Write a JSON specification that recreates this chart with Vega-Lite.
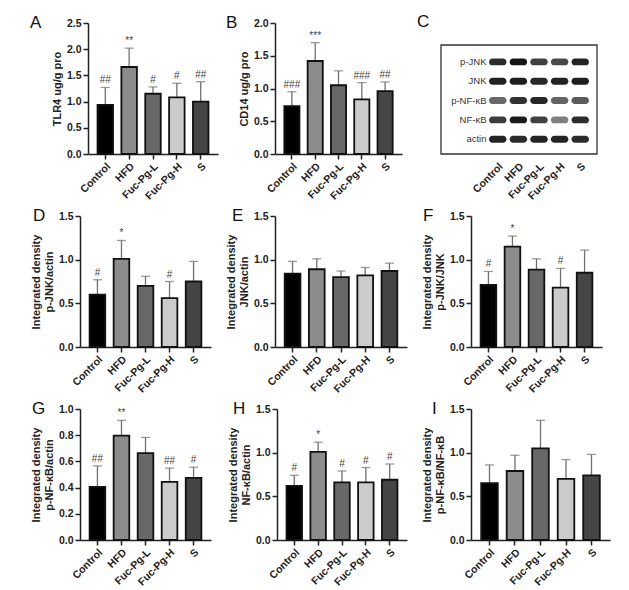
{
  "$schema": "https://vega.github.io/schema/vega-lite/v6.json",
  "padding": {"left": 30, "top": 13, "right": 5, "bottom": 5},
  "background": "white",
  "datasets": {
    "bars": [
      {"panel": "A", "group": "Control", "mean": 0.935, "upper": 1.27, "sig": "##"},
      {"panel": "A", "group": "HFD", "mean": 1.66, "upper": 2.02, "sig": "**"},
      {"panel": "A", "group": "Fuc-Pg-L", "mean": 1.15, "upper": 1.28, "sig": "#"},
      {"panel": "A", "group": "Fuc-Pg-H", "mean": 1.08, "upper": 1.35, "sig": "#"},
      {"panel": "A", "group": "S", "mean": 1.0, "upper": 1.38, "sig": "##"},
      {"panel": "B", "group": "Control", "mean": 0.73, "upper": 0.95, "sig": "###"},
      {"panel": "B", "group": "HFD", "mean": 1.42, "upper": 1.7, "sig": "***"},
      {"panel": "B", "group": "Fuc-Pg-L", "mean": 1.05, "upper": 1.27, "sig": ""},
      {"panel": "B", "group": "Fuc-Pg-H", "mean": 0.835, "upper": 1.09, "sig": "###"},
      {"panel": "B", "group": "S", "mean": 0.96, "upper": 1.1, "sig": "##"},
      {"panel": "D", "group": "Control", "mean": 0.6, "upper": 0.77, "sig": "#"},
      {"panel": "D", "group": "HFD", "mean": 1.01, "upper": 1.22, "sig": "*"},
      {"panel": "D", "group": "Fuc-Pg-L", "mean": 0.7, "upper": 0.81, "sig": ""},
      {"panel": "D", "group": "Fuc-Pg-H", "mean": 0.56, "upper": 0.75, "sig": "#"},
      {"panel": "D", "group": "S", "mean": 0.75, "upper": 0.98, "sig": ""},
      {"panel": "E", "group": "Control", "mean": 0.84, "upper": 0.98, "sig": ""},
      {"panel": "E", "group": "HFD", "mean": 0.89, "upper": 1.01, "sig": ""},
      {"panel": "E", "group": "Fuc-Pg-L", "mean": 0.8, "upper": 0.87, "sig": ""},
      {"panel": "E", "group": "Fuc-Pg-H", "mean": 0.82, "upper": 0.91, "sig": ""},
      {"panel": "E", "group": "S", "mean": 0.87, "upper": 0.96, "sig": ""},
      {"panel": "F", "group": "Control", "mean": 0.71, "upper": 0.865, "sig": "#"},
      {"panel": "F", "group": "HFD", "mean": 1.15, "upper": 1.27, "sig": "*"},
      {"panel": "F", "group": "Fuc-Pg-L", "mean": 0.885, "upper": 1.01, "sig": ""},
      {"panel": "F", "group": "Fuc-Pg-H", "mean": 0.68, "upper": 0.9, "sig": "#"},
      {"panel": "F", "group": "S", "mean": 0.85, "upper": 1.11, "sig": ""},
      {"panel": "G", "group": "Control", "mean": 0.405, "upper": 0.566, "sig": "##"},
      {"panel": "G", "group": "HFD", "mean": 0.796, "upper": 0.913, "sig": "**"},
      {"panel": "G", "group": "Fuc-Pg-L", "mean": 0.663, "upper": 0.783, "sig": ""},
      {"panel": "G", "group": "Fuc-Pg-H", "mean": 0.444, "upper": 0.549, "sig": "##"},
      {"panel": "G", "group": "S", "mean": 0.474, "upper": 0.556, "sig": "#"},
      {"panel": "H", "group": "Control", "mean": 0.62, "upper": 0.74, "sig": "#"},
      {"panel": "H", "group": "HFD", "mean": 1.01, "upper": 1.12, "sig": "*"},
      {"panel": "H", "group": "Fuc-Pg-L", "mean": 0.66, "upper": 0.79, "sig": "#"},
      {"panel": "H", "group": "Fuc-Pg-H", "mean": 0.66, "upper": 0.83, "sig": "#"},
      {"panel": "H", "group": "S", "mean": 0.69, "upper": 0.87, "sig": "#"},
      {"panel": "I", "group": "Control", "mean": 0.65, "upper": 0.86, "sig": ""},
      {"panel": "I", "group": "HFD", "mean": 0.79, "upper": 0.97, "sig": ""},
      {"panel": "I", "group": "Fuc-Pg-L", "mean": 1.05, "upper": 1.37, "sig": ""},
      {"panel": "I", "group": "Fuc-Pg-H", "mean": 0.7, "upper": 0.92, "sig": ""},
      {"panel": "I", "group": "S", "mean": 0.74, "upper": 0.98, "sig": ""}
    ],
    "blot": [
      {"protein": "p-JNK", "lane": "Control", "intensity": 0.88},
      {"protein": "p-JNK", "lane": "HFD", "intensity": 1.0},
      {"protein": "p-JNK", "lane": "Fuc-Pg-L", "intensity": 0.78},
      {"protein": "p-JNK", "lane": "Fuc-Pg-H", "intensity": 0.74},
      {"protein": "p-JNK", "lane": "S", "intensity": 0.92},
      {"protein": "JNK", "lane": "Control", "intensity": 0.93},
      {"protein": "JNK", "lane": "HFD", "intensity": 0.95},
      {"protein": "JNK", "lane": "Fuc-Pg-L", "intensity": 0.9},
      {"protein": "JNK", "lane": "Fuc-Pg-H", "intensity": 0.93},
      {"protein": "JNK", "lane": "S", "intensity": 0.95},
      {"protein": "p-NF-κB", "lane": "Control", "intensity": 0.6},
      {"protein": "p-NF-κB", "lane": "HFD", "intensity": 0.85},
      {"protein": "p-NF-κB", "lane": "Fuc-Pg-L", "intensity": 0.9},
      {"protein": "p-NF-κB", "lane": "Fuc-Pg-H", "intensity": 0.62},
      {"protein": "p-NF-κB", "lane": "S", "intensity": 0.66},
      {"protein": "NF-κB", "lane": "Control", "intensity": 0.8},
      {"protein": "NF-κB", "lane": "HFD", "intensity": 0.97},
      {"protein": "NF-κB", "lane": "Fuc-Pg-L", "intensity": 0.78},
      {"protein": "NF-κB", "lane": "Fuc-Pg-H", "intensity": 0.5},
      {"protein": "NF-κB", "lane": "S", "intensity": 0.88},
      {"protein": "actin", "lane": "Control", "intensity": 0.92},
      {"protein": "actin", "lane": "HFD", "intensity": 0.88},
      {"protein": "actin", "lane": "Fuc-Pg-L", "intensity": 0.92},
      {"protein": "actin", "lane": "Fuc-Pg-H", "intensity": 0.92},
      {"protein": "actin", "lane": "S", "intensity": 0.88}
    ]
  },
  "columns": 3,
  "align": "each",
  "bounds": "flush",
  "spacing": {"row": 62, "column": 20},
  "concat": [
    {
      "width": 175, "height": 131,
      "title": {"text": "A", "dx": -50, "dy": 18},
      "data": {"name": "bars"},
      "transform": [{"filter": "datum.panel === 'A'"}],
      "encoding": {
        "x": {"field": "group", "type": "nominal", "sort": ["Control", "HFD", "Fuc-Pg-L", "Fuc-Pg-H", "S"], "title": null,
              "scale": {"range": [8, 138], "paddingInner": 0.35, "paddingOuter": 0.4}},
        "y": {"field": "mean", "type": "quantitative", "scale": {"domain": [0, 2.5], "nice": false},
              "axis": {"title": "TLR4 ug/g pro", "values": [0, 0.5, 1, 1.5, 2, 2.5], "format": ".1f", "offset": -8}}
      },
      "layer": [
        {"mark": {"type": "rule", "color": "#707070", "strokeWidth": 1.3}, "encoding": {"y2": {"field": "upper"}}},
        {"mark": {"type": "tick", "color": "#707070", "thickness": 1.3, "size": 9}, "encoding": {"y": {"field": "upper", "type": "quantitative"}}},
        {"mark": {"type": "bar", "stroke": "#111", "strokeWidth": 1.8}, "encoding": {"fill": {"field": "group", "type": "nominal", "legend": null}}},
        {"mark": {"type": "text", "baseline": "bottom", "dy": -2, "fontSize": 10, "color": "#444"}, "encoding": {"y": {"field": "upper", "type": "quantitative"}, "text": {"field": "sig"}}}
      ]
    },
    {
      "width": 146, "height": 131,
      "title": {"text": "B", "dx": -49, "dy": 18},
      "data": {"name": "bars"},
      "transform": [{"filter": "datum.panel === 'B'"}],
      "encoding": {
        "x": {"field": "group", "type": "nominal", "sort": ["Control", "HFD", "Fuc-Pg-L", "Fuc-Pg-H", "S"], "title": null,
              "scale": {"range": [0, 127], "paddingInner": 0.35, "paddingOuter": 0.4}},
        "y": {"field": "mean", "type": "quantitative", "scale": {"domain": [0, 2], "nice": false},
              "axis": {"title": "CD14 ug/g pro", "values": [0, 0.5, 1, 1.5, 2], "format": ".1f"}}
      },
      "layer": [
        {"mark": {"type": "rule", "color": "#707070", "strokeWidth": 1.3}, "encoding": {"y2": {"field": "upper"}}},
        {"mark": {"type": "tick", "color": "#707070", "thickness": 1.3, "size": 9}, "encoding": {"y": {"field": "upper", "type": "quantitative"}}},
        {"mark": {"type": "bar", "stroke": "#111", "strokeWidth": 1.8}, "encoding": {"fill": {"field": "group", "type": "nominal", "legend": null}}},
        {"mark": {"type": "text", "baseline": "bottom", "dy": -2, "fontSize": 10, "color": "#444"}, "encoding": {"y": {"field": "upper", "type": "quantitative"}, "text": {"field": "sig"}}}
      ]
    },
    {
      "width": 156, "height": 131,
      "title": {"text": "C", "dx": -24, "dy": 12},
      "layer": [
        {
          "data": {"name": "blot"},
          "mark": {"type": "rect", "cornerRadius": 3.5},
          "encoding": {
            "x": {"field": "lane", "type": "nominal", "sort": ["Control", "HFD", "Fuc-Pg-L", "Fuc-Pg-H", "S"], "title": null,
                  "scale": {"range": [48, 148], "paddingInner": 0.15, "paddingOuter": 0},
                  "axis": {"domain": false, "ticks": false, "labelPadding": 7}},
            "y": {"field": "protein", "type": "nominal", "sort": ["p-JNK", "JNK", "p-NF-κB", "NF-κB", "actin"], "title": null,
                  "scale": {"range": [35.4, 119.7], "paddingInner": 0.64, "paddingOuter": 0},
                  "axis": {"domain": false, "ticks": false, "offset": -45, "labelPadding": 0, "labelFontWeight": "normal", "labelFontSize": 9.5, "labelColor": "#333", "labelAngle": 0}},
            "color": {"field": "intensity", "type": "quantitative", "scale": {"domain": [0, 1], "range": ["#ffffff", "#151515"]}, "legend": null}
          }
        },
        {
          "data": {"values": [{"frame": "box"}]},
          "mark": {"type": "rect", "fill": null, "stroke": "#333", "strokeWidth": 1.3},
          "encoding": {
            "x": {"field": "frame", "type": "nominal", "axis": null, "scale": {"range": [0, 156], "paddingInner": 0, "paddingOuter": 0}},
            "y": {"field": "frame", "type": "nominal", "axis": null, "scale": {"range": [22, 131], "paddingInner": 0, "paddingOuter": 0}}
          }
        }
      ],
      "resolve": {"scale": {"x": "independent", "y": "independent", "color": "independent"}, "axis": {"x": "independent", "y": "independent"}}
    },
    {
      "width": 175, "height": 131,
      "title": {"text": "D", "dx": -47, "dy": 18},
      "data": {"name": "bars"},
      "transform": [{"filter": "datum.panel === 'D'"}],
      "encoding": {
        "x": {"field": "group", "type": "nominal", "sort": ["Control", "HFD", "Fuc-Pg-L", "Fuc-Pg-H", "S"], "title": null,
              "scale": {"range": [0, 131], "paddingInner": 0.35, "paddingOuter": 0.4}},
        "y": {"field": "mean", "type": "quantitative", "scale": {"domain": [0, 1.5], "nice": false},
              "axis": {"title": ["Integrated density", "p-JNK/actin"], "values": [0, 0.5, 1, 1.5], "format": ".1f"}}
      },
      "layer": [
        {"mark": {"type": "rule", "color": "#707070", "strokeWidth": 1.3}, "encoding": {"y2": {"field": "upper"}}},
        {"mark": {"type": "tick", "color": "#707070", "thickness": 1.3, "size": 9}, "encoding": {"y": {"field": "upper", "type": "quantitative"}}},
        {"mark": {"type": "bar", "stroke": "#111", "strokeWidth": 1.8}, "encoding": {"fill": {"field": "group", "type": "nominal", "legend": null}}},
        {"mark": {"type": "text", "baseline": "bottom", "dy": -2, "fontSize": 10, "color": "#444"}, "encoding": {"y": {"field": "upper", "type": "quantitative"}, "text": {"field": "sig"}}}
      ]
    },
    {
      "width": 146, "height": 131,
      "title": {"text": "E", "dx": -43, "dy": 18},
      "data": {"name": "bars"},
      "transform": [{"filter": "datum.panel === 'E'"}],
      "encoding": {
        "x": {"field": "group", "type": "nominal", "sort": ["Control", "HFD", "Fuc-Pg-L", "Fuc-Pg-H", "S"], "title": null,
              "scale": {"range": [0, 132], "paddingInner": 0.35, "paddingOuter": 0.4}},
        "y": {"field": "mean", "type": "quantitative", "scale": {"domain": [0, 1.5], "nice": false},
              "axis": {"title": ["Integrated density", "JNK/actin"], "values": [0, 0.5, 1, 1.5], "format": ".1f"}}
      },
      "layer": [
        {"mark": {"type": "rule", "color": "#707070", "strokeWidth": 1.3}, "encoding": {"y2": {"field": "upper"}}},
        {"mark": {"type": "tick", "color": "#707070", "thickness": 1.3, "size": 9}, "encoding": {"y": {"field": "upper", "type": "quantitative"}}},
        {"mark": {"type": "bar", "stroke": "#111", "strokeWidth": 1.8}, "encoding": {"fill": {"field": "group", "type": "nominal", "legend": null}}},
        {"mark": {"type": "text", "baseline": "bottom", "dy": -2, "fontSize": 10, "color": "#444"}, "encoding": {"y": {"field": "upper", "type": "quantitative"}, "text": {"field": "sig"}}}
      ]
    },
    {
      "width": 169, "height": 131,
      "title": {"text": "F", "dx": -18, "dy": 18},
      "data": {"name": "bars"},
      "transform": [{"filter": "datum.panel === 'F'"}],
      "encoding": {
        "x": {"field": "group", "type": "nominal", "sort": ["Control", "HFD", "Fuc-Pg-L", "Fuc-Pg-H", "S"], "title": null,
              "scale": {"range": [30, 161], "paddingInner": 0.35, "paddingOuter": 0.4}},
        "y": {"field": "mean", "type": "quantitative", "scale": {"domain": [0, 1.5], "nice": false},
              "axis": {"title": ["Integrated density", "p-JNK/JNK"], "values": [0, 0.5, 1, 1.5], "format": ".1f", "offset": -30}}
      },
      "layer": [
        {"mark": {"type": "rule", "color": "#707070", "strokeWidth": 1.3}, "encoding": {"y2": {"field": "upper"}}},
        {"mark": {"type": "tick", "color": "#707070", "thickness": 1.3, "size": 9}, "encoding": {"y": {"field": "upper", "type": "quantitative"}}},
        {"mark": {"type": "bar", "stroke": "#111", "strokeWidth": 1.8}, "encoding": {"fill": {"field": "group", "type": "nominal", "legend": null}}},
        {"mark": {"type": "text", "baseline": "bottom", "dy": -2, "fontSize": 10, "color": "#444"}, "encoding": {"y": {"field": "upper", "type": "quantitative"}, "text": {"field": "sig"}}}
      ]
    },
    {
      "width": 175, "height": 131,
      "title": {"text": "G", "dx": -48, "dy": 18},
      "data": {"name": "bars"},
      "transform": [{"filter": "datum.panel === 'G'"}],
      "encoding": {
        "x": {"field": "group", "type": "nominal", "sort": ["Control", "HFD", "Fuc-Pg-L", "Fuc-Pg-H", "S"], "title": null,
              "scale": {"range": [0, 131], "paddingInner": 0.35, "paddingOuter": 0.4}},
        "y": {"field": "mean", "type": "quantitative", "scale": {"domain": [0, 1], "nice": false},
              "axis": {"title": ["Integrated density", "p-NF-κB/actin"], "values": [0, 0.2, 0.4, 0.6, 0.8, 1], "format": ".1f"}}
      },
      "layer": [
        {"mark": {"type": "rule", "color": "#707070", "strokeWidth": 1.3}, "encoding": {"y2": {"field": "upper"}}},
        {"mark": {"type": "tick", "color": "#707070", "thickness": 1.3, "size": 9}, "encoding": {"y": {"field": "upper", "type": "quantitative"}}},
        {"mark": {"type": "bar", "stroke": "#111", "strokeWidth": 1.8}, "encoding": {"fill": {"field": "group", "type": "nominal", "legend": null}}},
        {"mark": {"type": "text", "baseline": "bottom", "dy": -2, "fontSize": 10, "color": "#444"}, "encoding": {"y": {"field": "upper", "type": "quantitative"}, "text": {"field": "sig"}}}
      ]
    },
    {
      "width": 146, "height": 131,
      "title": {"text": "H", "dx": -42, "dy": 18},
      "data": {"name": "bars"},
      "transform": [{"filter": "datum.panel === 'H'"}],
      "encoding": {
        "x": {"field": "group", "type": "nominal", "sort": ["Control", "HFD", "Fuc-Pg-L", "Fuc-Pg-H", "S"], "title": null,
              "scale": {"range": [2, 132], "paddingInner": 0.35, "paddingOuter": 0.4}},
        "y": {"field": "mean", "type": "quantitative", "scale": {"domain": [0, 1.5], "nice": false},
              "axis": {"title": ["Integrated density", "NF-κB/actin"], "values": [0, 0.5, 1, 1.5], "format": ".1f", "offset": -2}}
      },
      "layer": [
        {"mark": {"type": "rule", "color": "#707070", "strokeWidth": 1.3}, "encoding": {"y2": {"field": "upper"}}},
        {"mark": {"type": "tick", "color": "#707070", "thickness": 1.3, "size": 9}, "encoding": {"y": {"field": "upper", "type": "quantitative"}}},
        {"mark": {"type": "bar", "stroke": "#111", "strokeWidth": 1.8}, "encoding": {"fill": {"field": "group", "type": "nominal", "legend": null}}},
        {"mark": {"type": "text", "baseline": "bottom", "dy": -2, "fontSize": 10, "color": "#444"}, "encoding": {"y": {"field": "upper", "type": "quantitative"}, "text": {"field": "sig"}}}
      ]
    },
    {
      "width": 169, "height": 131,
      "title": {"text": "I", "dx": -9, "dy": 18},
      "data": {"name": "bars"},
      "transform": [{"filter": "datum.panel === 'I'"}],
      "encoding": {
        "x": {"field": "group", "type": "nominal", "sort": ["Control", "HFD", "Fuc-Pg-L", "Fuc-Pg-H", "S"], "title": null,
              "scale": {"range": [30, 169], "paddingInner": 0.35, "paddingOuter": 0.4}},
        "y": {"field": "mean", "type": "quantitative", "scale": {"domain": [0, 1.5], "nice": false},
              "axis": {"title": ["Integrated density", "p-NF-κB/NF-κB"], "values": [0, 0.5, 1, 1.5], "format": ".1f", "offset": -30}}
      },
      "layer": [
        {"mark": {"type": "rule", "color": "#707070", "strokeWidth": 1.3}, "encoding": {"y2": {"field": "upper"}}},
        {"mark": {"type": "tick", "color": "#707070", "thickness": 1.3, "size": 9}, "encoding": {"y": {"field": "upper", "type": "quantitative"}}},
        {"mark": {"type": "bar", "stroke": "#111", "strokeWidth": 1.8}, "encoding": {"fill": {"field": "group", "type": "nominal", "legend": null}}},
        {"mark": {"type": "text", "baseline": "bottom", "dy": -2, "fontSize": 10, "color": "#444"}, "encoding": {"y": {"field": "upper", "type": "quantitative"}, "text": {"field": "sig"}}}
      ]
    }
  ],
  "config": {
    "font": "Liberation Sans",
    "view": {"stroke": null},
    "range": {"category": ["#000000", "#cbcbcb", "#686868", "#8c8c8c", "#454545"]},
    "axis": {
      "grid": false, "domainColor": "#222", "domainWidth": 1.5, "tickColor": "#222", "tickWidth": 1.5, "tickSize": 5,
      "labelFont": "Liberation Sans", "labelFontWeight": "bold", "labelFontSize": 10.5, "labelColor": "#222", "labelPadding": 2,
      "titleFont": "Liberation Sans", "titleFontWeight": "bold", "titleFontSize": 11, "titleColor": "#222", "titlePadding": 4
    },
    "axisX": {"labelAngle": -45, "labelAlign": "right", "labelBaseline": "top"},
    "title": {"anchor": "start", "frame": "group", "fontSize": 17, "fontWeight": "normal", "font": "Liberation Sans", "color": "#111", "offset": 0}
  }
}
